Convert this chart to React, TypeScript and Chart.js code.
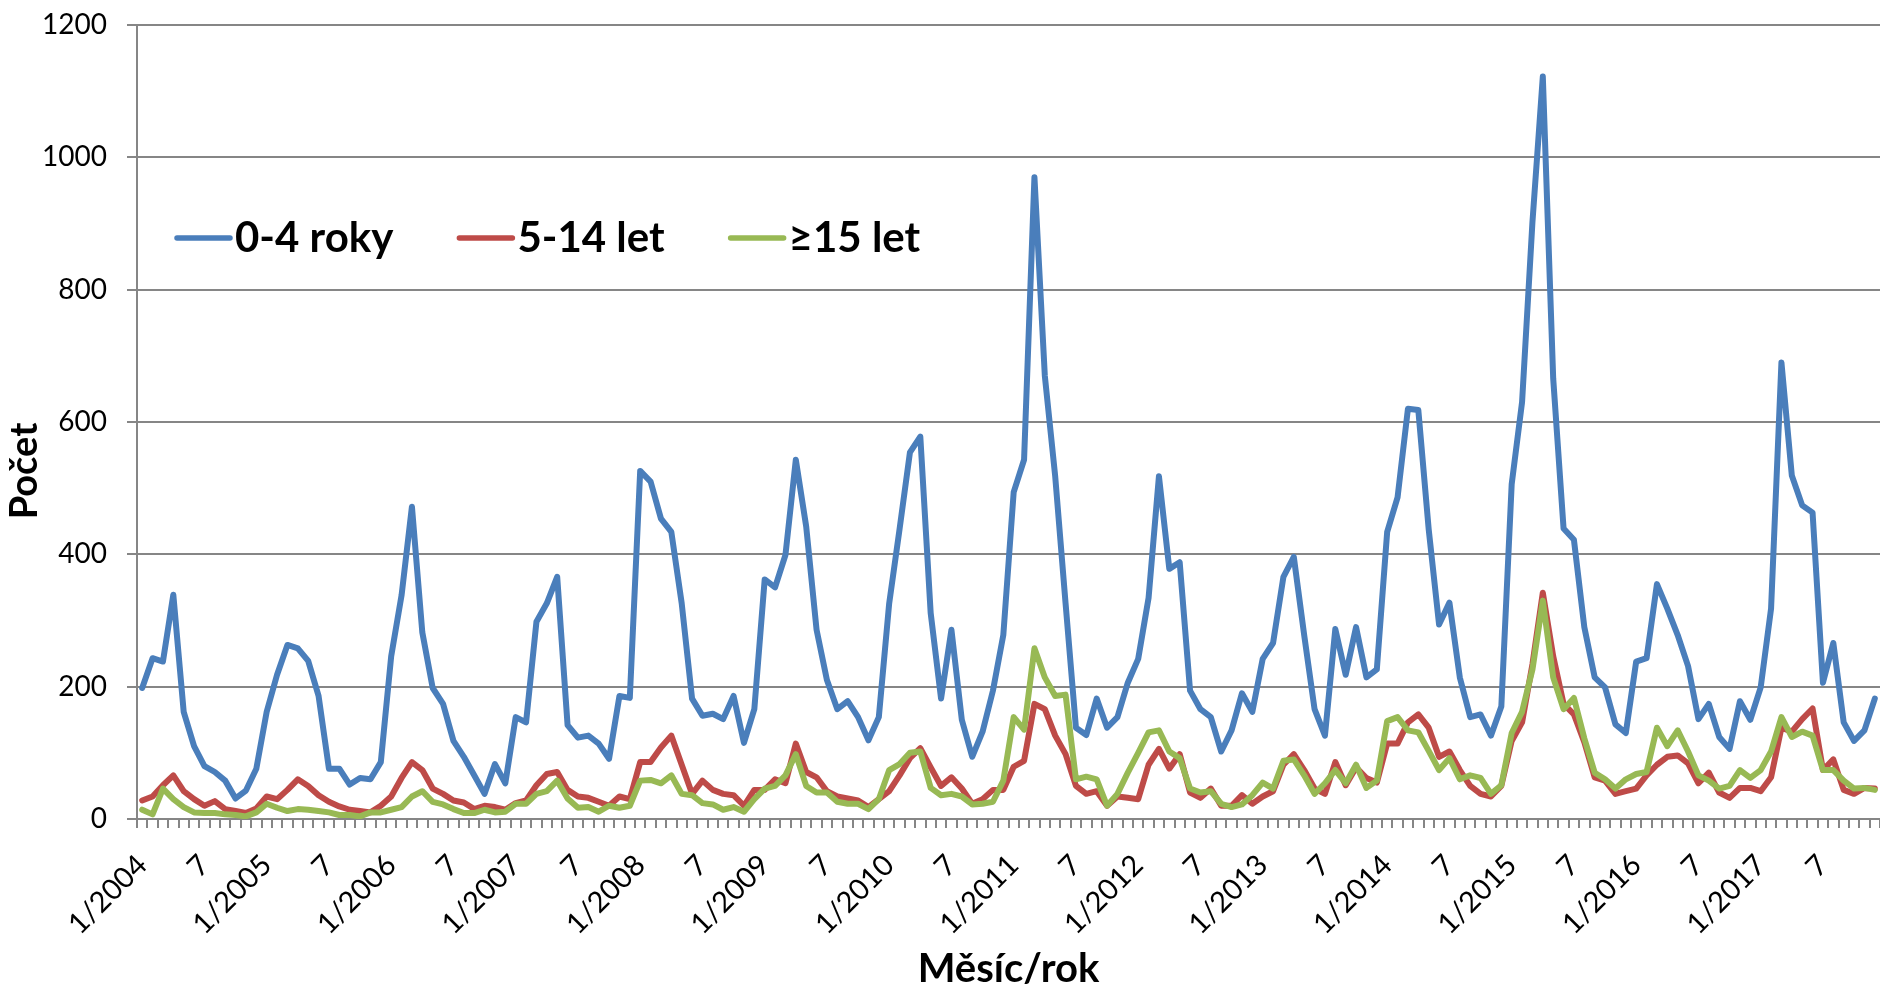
import { useEffect, useRef } from 'react';
import { Chart, registerables } from 'chart.js';

Chart.register(...registerables);

// Months 1/2004 .. 12/2017
const years = [2004, 2005, 2006, 2007, 2008, 2009, 2010, 2011, 2012, 2013, 2014, 2015, 2016, 2017];
const months = [1, 2, 3, 4, 5, 6, 7, 8, 9, 10, 11, 12];
const categories = years.flatMap((y) => months.map((m) => `${m}/${y}`));
const tickLabels = categories.map((c) => {
  const m = c.split('/')[0];
  return m === '1' ? c : m === '7' ? '7' : '';
});

const seriesNames = ['0-4 roky', '5-14 let', '≥15 let'];
const seriesColors = ['#4A7EBB', '#BE4B48', '#98B954'];

const age0to4 = [
  198, 243, 238, 339, 162, 110, 80, 71, 58, 31, 43, 76,
  162, 218, 263, 258, 239, 186, 76, 76, 52, 62, 60, 86,
  246, 338, 472, 282, 198, 174, 118, 94, 66, 38, 83, 54,
  154, 146, 298, 326, 366, 142, 123, 126, 114, 91, 186, 183,
  526, 510, 454, 434, 326, 182, 156, 159, 151, 186, 115, 166,
  362, 350, 399, 543, 442, 286, 210, 166, 178, 154, 119, 154,
  326, 438, 554, 578, 311, 182, 286, 150, 94, 132, 194, 278,
  494, 543, 970, 670, 518, 326, 138, 127, 182, 138, 154, 206,
  242, 334, 518, 378, 388, 194, 166, 154, 102, 134, 190, 162,
  242, 266, 366, 396, 278, 166, 126, 287, 218, 290, 214, 226,
  434, 486, 620, 618, 438, 294, 327, 214, 154, 158, 126, 170,
  506, 630, 902, 1122, 666, 439, 422, 290, 214, 199, 143, 130,
  238, 243, 355, 318, 278, 231, 151, 174, 124, 106, 178, 150,
  199, 318, 690, 519, 474, 463, 206, 266, 146, 118, 134, 182,
];

const age5to14 = [
  28, 34, 51, 66, 42, 30, 20, 27, 15, 12, 9, 16,
  34, 30, 44, 60, 50, 36, 26, 19, 14, 12, 10, 20,
  34, 62, 86, 74, 46, 38, 28, 25, 15, 20, 18, 14,
  24, 28, 51, 68, 71, 44, 34, 32, 26, 20, 34, 30,
  86, 86, 108, 126, 82, 38, 58, 44, 38, 36, 20, 44,
  44, 60, 54, 114, 71, 63, 42, 34, 31, 28, 18, 30,
  42, 66, 92, 107, 78, 50, 63, 46, 23, 30, 44, 44,
  79, 88, 174, 166, 126, 98, 50, 38, 42, 20, 34, 32,
  30, 82, 106, 76, 98, 40, 32, 46, 20, 20, 36, 23,
  34, 42, 82, 98, 74, 46, 38, 86, 51, 78, 62, 55,
  114, 114, 146, 158, 138, 94, 102, 74, 50, 38, 34, 50,
  118, 146, 234, 342, 246, 174, 158, 116, 63, 58, 38, 42,
  46, 66, 82, 94, 96, 84, 54, 70, 40, 32, 47, 47,
  42, 63, 138, 132, 151, 167, 74, 90, 44, 38, 47, 46,
];

const age15plus = [
  14, 7, 46, 30, 18, 10, 9, 9, 7, 6, 4, 10,
  23, 17, 12, 15, 14, 12, 10, 6, 6, 4, 10, 10,
  14, 18, 34, 42, 26, 22, 15, 9, 9, 14, 10, 11,
  23, 23, 38, 42, 58, 31, 17, 18, 11, 20, 17, 20,
  58, 59, 54, 66, 38, 36, 24, 22, 14, 18, 11, 30,
  46, 50, 66, 98, 50, 40, 40, 26, 23, 23, 15, 30,
  74, 83, 100, 102, 47, 36, 38, 34, 22, 23, 26, 58,
  154, 135, 258, 214, 186, 188, 60, 64, 60, 20, 38, 70,
  100, 131, 134, 102, 92, 46, 40, 42, 23, 18, 22, 36,
  55, 46, 88, 90, 66, 38, 54, 74, 54, 82, 47, 58,
  148, 154, 134, 131, 103, 74, 92, 60, 66, 62, 38, 51,
  130, 162, 226, 330, 214, 166, 183, 122, 70, 60, 46, 60,
  68, 71, 138, 110, 134, 102, 66, 58, 46, 50, 74, 62,
  74, 102, 154, 124, 132, 126, 74, 74, 58, 46, 47, 44,
];

const yTitle = 'Počet';
const xTitle = 'Měsíc/rok';
const FONT = 'Lato';
const GRID = '#868686';

const legendPlugin = {
  id: 'customLegend',
  afterDraw(chart: any) {
    const ctx = chart.ctx as CanvasRenderingContext2D;
    const area = chart.chartArea;
    ctx.save();
    ctx.font = `bold 42px ${FONT}`;
    let x = area.left + 38;
    const y = area.top + 213;
    chart.data.datasets.forEach((ds: any) => {
      ctx.strokeStyle = ds.borderColor;
      ctx.lineWidth = 5.5;
      ctx.lineCap = 'round';
      ctx.beginPath();
      ctx.moveTo(x + 2, y);
      ctx.lineTo(x + 55, y);
      ctx.stroke();
      ctx.fillStyle = '#000';
      ctx.textBaseline = 'alphabetic';
      ctx.textAlign = 'left';
      ctx.fillText(ds.label, x + 60, y + 14);
      x += 60 + ctx.measureText(ds.label).width + 64;
    });
    // y axis title
    ctx.translate(25, 471);
    ctx.rotate(-Math.PI / 2);
    ctx.font = `bold 38px ${FONT}`;
    ctx.textAlign = 'center';
    ctx.textBaseline = 'middle';
    ctx.fillText(yTitle, 0, 0);
    ctx.restore();
  },
};

export default function App() {
  const ref = useRef<HTMLCanvasElement>(null);
  useEffect(() => {
    document.body.style.margin = '0';
    document.body.style.overflow = 'hidden';
    Chart.defaults.font.family = FONT;
    const chart = new Chart(ref.current as HTMLCanvasElement, {
      type: 'line',
      data: {
        labels: categories,
        datasets: [age0to4, age5to14, age15plus].map((d, i) => ({
          label: seriesNames[i],
          data: d,
          borderColor: seriesColors[i],
          backgroundColor: seriesColors[i],
          borderWidth: 6,
          pointRadius: 0,
          tension: 0,
          borderJoinStyle: 'round' as const,
          borderCapStyle: 'round' as const,
          order: 3 - i,
        })),
      },
      options: {
        animation: false,
        responsive: true,
        maintainAspectRatio: false,
        events: [],
        layout: { padding: { top: 25, right: 0, bottom: 0, left: 0 } },
        plugins: {
          legend: { display: false },
          tooltip: { enabled: false },
        },
        scales: {
          x: {
            offset: true,
            grid: {
              offset: true,
              drawOnChartArea: false,
              drawTicks: true,
              tickLength: 9,
              color: GRID,
              lineWidth: 2,
            },
            border: { display: true, color: GRID, width: 2 },
            ticks: {
              autoSkip: false,
              maxRotation: 45,
              minRotation: 45,
              padding: 20,
              color: '#000',
              font: { family: FONT, size: 29 },
              callback: (_v: any, i: number) => tickLabels[i],
            },
            title: {
              display: true,
              text: xTitle,
              color: '#000',
              font: { family: FONT, size: 40, weight: 'bold', lineHeight: 1 },
              padding: { top: 0, bottom: 0 },
            },
            afterFit: (s: any) => {
              s.height = 170;
              s.paddingLeft = 0;
              s.paddingRight = 0;
            },
          },
          y: {
            min: 0,
            max: 1200,
            grid: { color: GRID, lineWidth: 2, tickLength: 10, drawTicks: true },
            border: { display: true, color: GRID, width: 2 },
            ticks: {
              stepSize: 200,
              padding: 20,
              color: '#000',
              font: { family: FONT, size: 28 },
              callback: (v: any) => String(v),
            },
            afterFit: (s: any) => {
              s.width = 137;
              s.paddingTop = 0;
              s.paddingBottom = 0;
            },
          },
        },
      },
      plugins: [legendPlugin],
    });
    return () => chart.destroy();
  }, []);
  return (
    <div style={{ width: 1880, height: 989, position: 'relative' }}>
      <canvas ref={ref} />
    </div>
  );
}
